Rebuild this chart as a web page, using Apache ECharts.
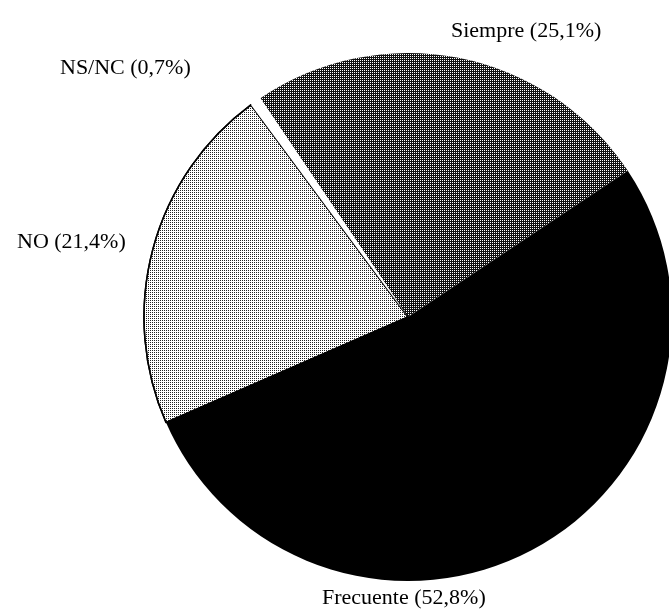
<!DOCTYPE html>
<html><head><meta charset="utf-8">
<script src="https://cdn.jsdelivr.net/npm/echarts@6/dist/echarts.min.js"></script>
<style>html,body{margin:0;padding:0;background:#fff}#c{width:669px;height:612px}</style>
</head><body><div id="c"></div>
<script>
const categories = ['Siempre', 'Frecuente', 'NO', 'NS/NC'];
const values = [25.1, 52.8, 21.4, 0.7];
const labelTexts = ['Siempre (25,1%)', 'Frecuente (52,8%)', 'NO (21,4%)', 'NS/NC (0,7%)'];

const styles = [
  {color: '#111', decal: {symbol: 'rect', symbolSize: 1, dashArrayX: [1, 1], dashArrayY: [1, 1], color: '#fff', rotation: 0}},
  {color: '#000'},
  {color: '#fff', borderColor: '#000', borderWidth: 1.5, decal: {symbol: 'rect', symbolSize: 1, dashArrayX: [1, 1], dashArrayY: [1, 1], color: '#222', rotation: 0}},
  {color: '#fff'}
];

const chart = echarts.init(document.getElementById('c'));
const font = '"Liberation Serif", "Times New Roman", serif';
chart.setOption({
  animation: false,
  backgroundColor: '#fff',
  series: [{
    type: 'pie',
    center: [408, 317],
    radius: [0, 264],
    startAngle: 124,
    clockwise: true,
    label: {show: false},
    labelLine: {show: false},
    emphasis: {disabled: true},
    data: categories.map((c, i) => ({name: c, value: values[i], itemStyle: styles[i]}))
  }],
  graphic: [
    {type: 'text', left: 451, top: 20, style: {text: labelTexts[0], font: '22px ' + font, fill: '#000'}},
    {type: 'text', left: 322, top: 587, style: {text: labelTexts[1], font: '22px ' + font, fill: '#000'}},
    {type: 'text', left: 17, top: 231, style: {text: labelTexts[2], font: '22px ' + font, fill: '#000'}},
    {type: 'text', left: 60, top: 57, style: {text: labelTexts[3], font: '22px ' + font, fill: '#000'}}
  ]
});
</script></body></html>
